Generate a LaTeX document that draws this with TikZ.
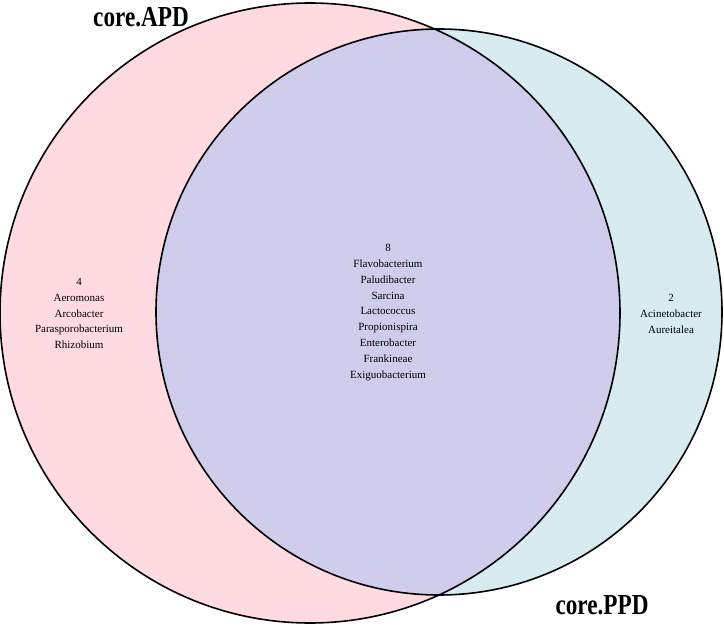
\documentclass[tikz,border=0pt]{standalone}
\usepackage{fontspec}
\setmainfont{Liberation Serif}
\definecolor{pinkA}{RGB}{255,218,224}
\definecolor{blueB}{RGB}{216,235,241}
\definecolor{lavAB}{RGB}{208,204,236}
\tikzset{
  setline/.style={draw=black, line width=1.6pt},
  cnt/.style={align=center, font=\fontsize{11}{15.8}\selectfont, inner sep=0pt},
  ttl/.style={font=\fontsize{29}{32}\selectfont\bfseries, inner sep=0pt}
}
\begin{document}
\begin{tikzpicture}[x=1pt,y=-1pt]
\useasboundingbox (0,0) rectangle (724,626);
\coordinate (cA) at (310,313);
\coordinate (cB) at (439,312);
\fill[pinkA] (cA) circle (310);
\fill[blueB] (cB) circle (283);
\begin{scope}
  \clip (cA) circle (310);
  \fill[lavAB] (cB) circle (283);
\end{scope}
\draw[setline] (cA) circle (310);
\draw[setline] (cB) circle (283);
\node[cnt] (onlyA) at (79,313.5) {4\\Aeromonas\\Arcobacter\\Parasporobacterium\\Rhizobium};
\node[cnt] (both) at (388,312.5) {8\\Flavobacterium\\Paludibacter\\Sarcina\\Lactococcus\\Propionispira\\Enterobacter\\Frankineae\\Exiguobacterium};
\node[cnt] (onlyB) at (671,314) {2\\Acinetobacter\\Aureitalea};
\node[ttl] (tA) at (141,17) {\scalebox{0.8}[1]{core.APD}};
\node[ttl] (tB) at (602,605) {\scalebox{0.8}[1]{core.PPD}};
\end{tikzpicture}
\end{document}
